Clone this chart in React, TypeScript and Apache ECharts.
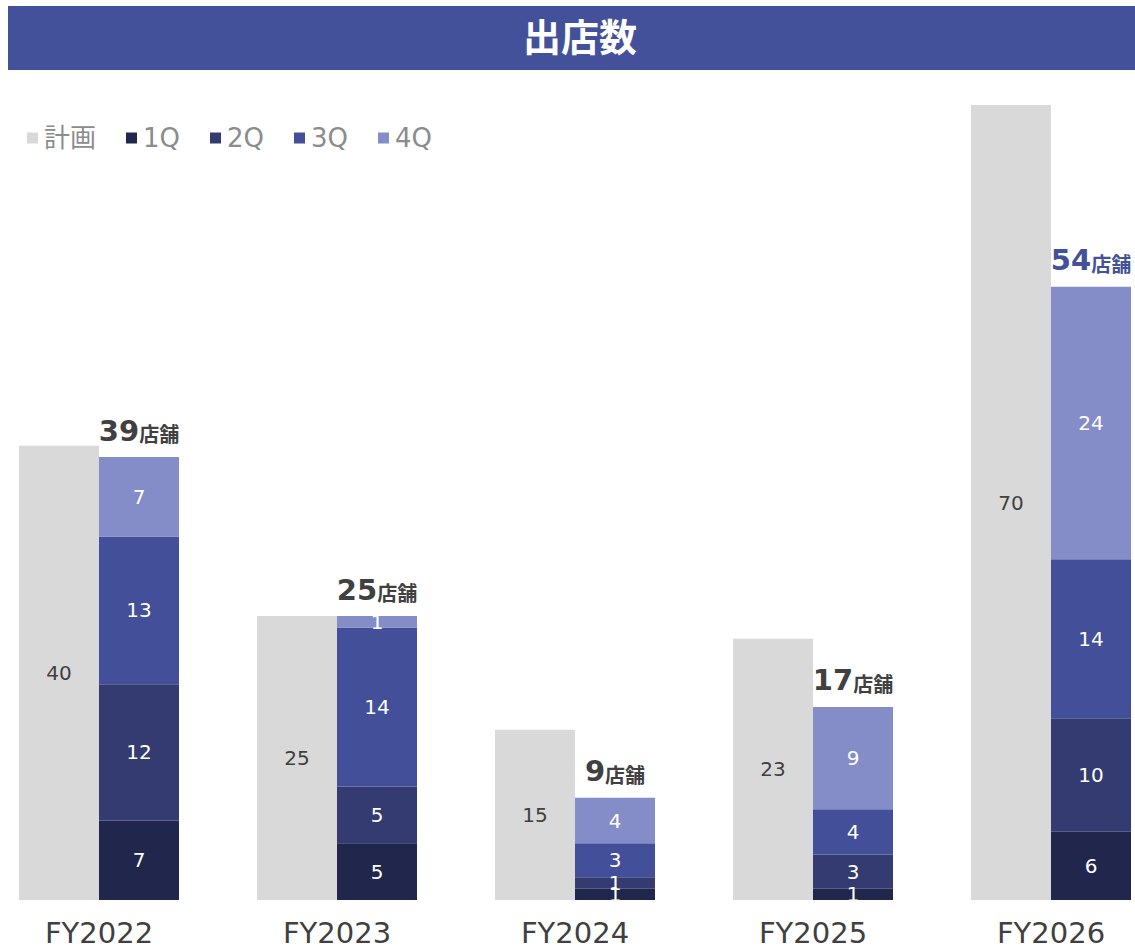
import React, { useEffect, useRef } from "react";
import * as echarts from "echarts";

const categories = ["FY2022", "FY2023", "FY2024", "FY2025", "FY2026"];
const planValues = [40, 25, 15, 23, 70];
const q1Values = [7, 5, 1, 1, 6];
const q2Values = [12, 5, 1, 3, 10];
const q3Values = [13, 14, 3, 4, 14];
const q4Values = [7, 1, 4, 9, 24];
const totals = [39, 25, 9, 17, 54];
const totalHighlight = [false, false, false, false, true];
const legendNames = ["計画", "1Q", "2Q", "3Q", "4Q"];
const titleText = "出店数";

const FONT = "'DejaVu Sans', 'Noto Sans CJK JP', sans-serif";
const colors = ["#D9D9D9", "#21274C", "#333B70", "#434F98", "#858DC9"];

export default function App() {
  const ref = useRef<HTMLDivElement>(null);
  useEffect(() => {
    document.body.style.margin = "0";
    if (!ref.current) return;
    const chart = echarts.init(ref.current, undefined, { renderer: "svg" });
    const quarterSeries = [q1Values, q2Values, q3Values, q4Values].map((vals, i) => ({
      name: legendNames[i + 1],
      type: "bar",
      stack: "actual",
      barWidth: 80,
      barGap: "0%",
      clip: false,
      itemStyle: { color: colors[i + 1] },
      label: {
        show: true,
        position: "inside",
        color: "#FFFFFF",
        fontSize: 20,
        fontFamily: FONT,
      },
      data: vals,
    }));
    chart.setOption({
      animation: false,
      color: colors,
      graphic: [
        {
          type: "rect",
          left: 8,
          top: 6,
          shape: { width: 1127, height: 64 },
          style: { fill: "#43509A" },
        },
        {
          type: "text",
          x: 580,
          y: 38,
          style: {
            text: titleText,
            fill: "#FFFFFF",
            fontSize: 38,
            fontWeight: "bold",
            fontFamily: FONT,
            align: "center",
            verticalAlign: "middle",
          },
        },
      ],
      legend: {
        data: legendNames,
        left: 22,
        top: 120,
        icon: "rect",
        itemWidth: 11,
        itemHeight: 11,
        itemGap: 30,
        textStyle: { color: "#8C8C8C", fontSize: 26, fontFamily: FONT, padding: [0, 0, 0, 1] },
      },
      grid: { left: 99, right: 84, top: 105, bottom: 49 },
      xAxis: {
        type: "category",
        data: categories,
        boundaryGap: false,
        axisLine: { show: false },
        axisTick: { show: false },
        axisLabel: { color: "#404040", fontSize: 29, fontFamily: FONT, margin: 18 },
      },
      yAxis: { type: "value", min: 0, max: 70, show: false, splitLine: { show: false } },
      series: [
        {
          name: legendNames[0],
          type: "bar",
          barWidth: 80,
          barGap: "0%",
          clip: false,
          itemStyle: { color: colors[0] },
          label: { show: true, position: "inside", color: "#404040", fontSize: 20, fontFamily: FONT },
          data: planValues,
        },
        ...quarterSeries,
        {
          name: "合計",
          type: "bar",
          stack: "actual",
          barWidth: 80,
          clip: false,
          itemStyle: { color: "transparent" },
          label: {
            show: true,
            position: "top",
            distance: 12,
            formatter: (p: any) => {
              const i = p.dataIndex;
              return totalHighlight[i]
                ? `{bn|${totals[i]}}{bu|店舗}`
                : `{n|${totals[i]}}{u|店舗}`;
            },
            rich: {
              n: { fontSize: 29, fontWeight: "bold", color: "#404040", fontFamily: FONT, verticalAlign: "bottom", lineHeight: 32 },
              u: { fontSize: 20, fontWeight: "bold", color: "#404040", fontFamily: FONT, verticalAlign: "bottom", lineHeight: 28 },
              bn: { fontSize: 29, fontWeight: "bold", color: "#43509A", fontFamily: FONT, verticalAlign: "bottom", lineHeight: 32 },
              bu: { fontSize: 20, fontWeight: "bold", color: "#43509A", fontFamily: FONT, verticalAlign: "bottom", lineHeight: 28 },
            },
          },
          data: totals.map(() => 0),
        },
      ],
    });
    return () => chart.dispose();
  }, []);
  return <div ref={ref} style={{ width: 1135, height: 949 }} />;
}
